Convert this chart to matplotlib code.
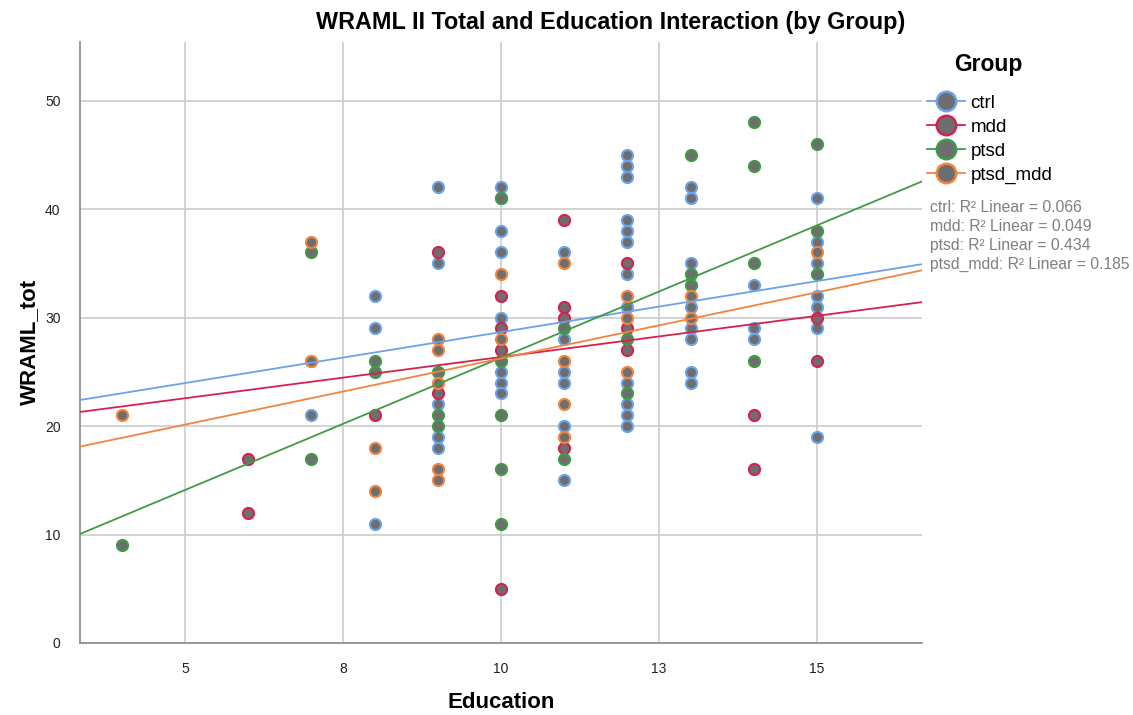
import matplotlib
matplotlib.use("Agg")
import matplotlib.pyplot as plt
from matplotlib.lines import Line2D
import numpy as np

plt.rcParams['font.family'] = ['Liberation Sans', 'DejaVu Sans']

# data (Education, WRAML_tot) per group
groups = ['ctrl', 'mdd', 'ptsd', 'ptsd_mdd']
colors = ['#6AA3EC', '#D6214E', '#3F9B45', '#F3843F']

ctrl_x = [7, 7, 8, 8, 8, 9, 9, 9, 9, 9, 10, 10, 10, 10, 10, 10, 10, 10,
          11, 11, 11, 11, 11, 11,
          12, 12, 12, 12, 12, 12, 12, 12, 12, 12, 12, 12,
          13, 13, 13, 13, 13, 13, 13, 13, 14, 14, 14,
          15, 15, 15, 15, 15, 15, 15]
ctrl_y = [21, 26, 32, 29, 11, 42, 35, 22, 19, 18, 42, 41, 38, 36, 30, 25, 24, 23,
          36, 28, 25, 24, 20, 15,
          45, 44, 43, 39, 38, 37, 34, 31, 24, 22, 21, 20,
          42, 41, 35, 31, 29, 28, 25, 24, 33, 29, 28,
          41, 37, 35, 32, 31, 29, 19]

mdd_x = [6, 6, 8, 9, 9, 10, 10, 10, 10, 11, 11, 11, 11, 12, 12, 12, 14, 14, 15, 15]
mdd_y = [17, 12, 21, 36, 23, 32, 29, 27, 5, 39, 31, 30, 18, 35, 29, 27, 21, 16, 30, 26]

ptsd_x = [4, 7, 7, 8, 8, 9, 9, 9, 10, 10, 10, 10, 10, 11, 11, 12, 12,
          13, 13, 13, 14, 14, 14, 14, 15, 15, 15]
ptsd_y = [9, 36, 17, 26, 25, 25, 21, 20, 41, 26, 21, 16, 11, 29, 17, 28, 23,
          45, 34, 33, 48, 44, 35, 26, 46, 38, 34]

ptsd_mdd_x = [4, 7, 7, 8, 8, 9, 9, 9, 9, 9, 10, 10, 11, 11, 11, 11,
              12, 12, 12, 13, 13, 15]
ptsd_mdd_y = [21, 37, 26, 18, 14, 28, 27, 24, 16, 15, 34, 28, 35, 26, 22, 19,
              32, 30, 25, 32, 30, 36]

xs = [ctrl_x, mdd_x, ptsd_x, ptsd_mdd_x]
ys = [ctrl_y, mdd_y, ptsd_y, ptsd_mdd_y]

# linear fit lines (intercept, slope) and R² as reported
fit_intercept = [19.26, 18.76, 1.90, 14.03]
fit_slope = [0.94, 0.76, 2.44, 1.22]
r2 = [0.066, 0.049, 0.434, 0.185]

x_ticks = [5, 7.5, 10, 12.5, 15]
x_ticklabels = ['5', '8', '10', '13', '15']
y_ticks = [0, 10, 20, 30, 40, 50]

fig = plt.figure(figsize=(11.33, 7.15), dpi=100)
ax = fig.add_axes([80 / 1133, 72 / 715, 842 / 1133, 601 / 715])

xlim = (3.34, 16.66)
for gx, gy, c in zip(xs, ys, colors):
    ax.scatter(gx, gy, s=64, facecolor='#6E6E6E', edgecolor=c, linewidths=1.5, zorder=3)

xx = np.array(xlim)
for b0, b1, c in zip(fit_intercept, fit_slope, colors):
    ax.plot(xx, b0 + b1 * xx, color=c, lw=1.3, zorder=4)

ax.set_xlim(*xlim)
ax.set_ylim(0, 55.4)
ax.set_xticks(x_ticks)
ax.set_xticklabels(x_ticklabels)
ax.set_yticks(y_ticks)
ax.grid(True, color='#CCCCCC', lw=1.2, zorder=0)
ax.set_axisbelow(True)
ax.tick_params(length=0, labelsize=10, colors='#222222', pad=14)
for s in ['top', 'right']:
    ax.spines[s].set_visible(False)
for s in ['left', 'bottom']:
    ax.spines[s].set_color('#8A8A8A')
    ax.spines[s].set_linewidth(1.2)

fig.text(501 / 1133, 1 - 702 / 715, 'Education', ha='center', va='center',
         fontsize=16, fontweight='bold')
fig.text(30 / 1133, 1 - 342 / 715, 'WRAML_tot', ha='center', va='center',
         rotation=90, fontsize=16, fontweight='bold')
fig.text(611 / 1133, 1 - 22 / 715, 'WRAML II Total and Education Interaction (by Group)',
         ha='center', va='center', fontsize=16.8, fontweight='bold')

# legend: title as separate text, entries below
fig.text(988 / 1133, 1 - 64 / 715, 'Group', ha='center', va='center',
         fontsize=16.5, fontweight='bold')
handles = [Line2D([0], [0], color=c, lw=1.3, marker='o', markersize=14,
                  markerfacecolor='#6E6E6E', markeredgecolor=c, markeredgewidth=1.8)
           for c in colors]
leg = fig.legend(handles, groups, loc='upper left', bbox_to_anchor=(918 / 1133, 1 - 85 / 715),
                 frameon=False, fontsize=13.5,
                 handlelength=2.0, handletextpad=0.3, labelspacing=0.37, borderpad=0)

for i, (g, r) in enumerate(zip(groups, r2)):
    fig.text(930 / 1133, 1 - (207 + 19.3 * i) / 715, f'{g}: R\u00b2 Linear = {r:.3f}',
             ha='left', va='center', fontsize=11.3, color='#7F7F7F')

plt.savefig('out.png', dpi=100)
